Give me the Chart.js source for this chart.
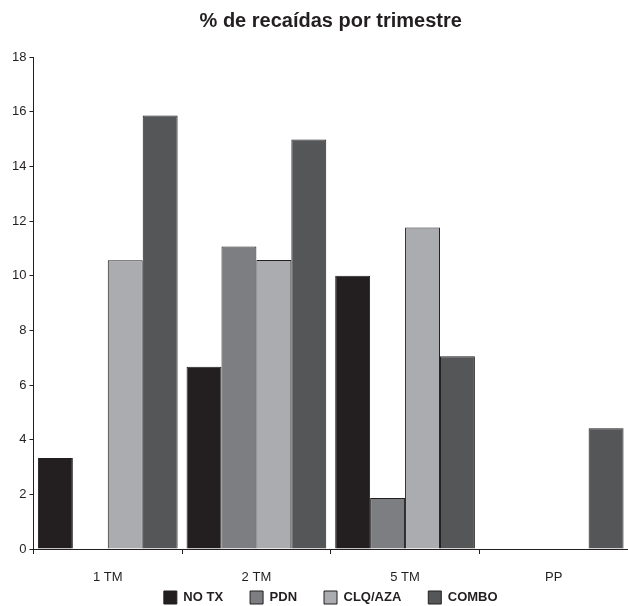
<!DOCTYPE html>
<html>
<head>
<meta charset="utf-8">
<script src="https://cdn.jsdelivr.net/npm/chart.js@4/dist/chart.umd.min.js"></script>
<style>
html,body{margin:0;padding:0;background:#fff;}
#wrap{width:628px;height:606px;position:relative;}
</style>
</head>
<body>
<div id="wrap"><canvas id="c" width="628" height="606"></canvas></div>
<script>
const categories = ["1 TM", "2 TM", "5 TM", "PP"];
const seriesNames = ["NO TX", "PDN", "CLQ/AZA", "COMBO"];
const noTx   = [3.33, 6.67, 10.0, 0];
const pdn    = [0, 11.07, 1.87, 0];
const clqAza = [10.56, 10.57, 11.76, 0];
const combo  = [15.86, 14.98, 7.05, 4.42];
const yTicks = [0, 2, 4, 6, 8, 10, 12, 14, 16, 18];

const colors = ["#231f20", "#7d7e82", "#abacb0", "#555658"];
const seriesValues = [noTx, pdn, clqAza, combo];

Chart.defaults.font.family = "'Liberation Sans', Arial, Helvetica, sans-serif";
Chart.defaults.color = "#231f20";

new Chart(document.getElementById('c'), {
  type: 'bar',
  data: {
    labels: categories,
    datasets: seriesNames.map((n, i) => ({
      label: n,
      data: seriesValues[i],
      backgroundColor: colors[i],
      borderColor: "#231f20",
      borderWidth: 1,
      categoryPercentage: 0.94,
      barPercentage: 1.0
    }))
  },
  options: {
    responsive: false,
    animation: false,
    devicePixelRatio: 1,
    layout: { padding: { left: 9, right: 0, top: 7, bottom: -8 } },
    plugins: {
      title: {
        display: true,
        text: "% de recaídas por trimestre",
        fullSize: false,
        color: "#231f20",
        font: { size: 20, weight: 'bold' },
        padding: { top: 2, bottom: 24 }
      },
      legend: {
        position: 'bottom',
        fullSize: false,
        labels: {
          boxWidth: 13,
          boxHeight: 13,
          padding: 27,
          color: "#231f20",
          font: { size: 13, weight: 'bold' }
        }
      },
      tooltip: { enabled: false }
    },
    scales: {
      x: {
        grid: { display: true, drawOnChartArea: false, drawTicks: true, tickLength: 5, color: "#231f20", offset: true },
        border: { display: true, color: "#231f20", width: 1 },
        ticks: { mirror: true, padding: -36, color: "#231f20", font: { size: 13 } },
        afterFit: (scale) => { scale.height = 15; }
      },
      y: {
        min: 0,
        max: 18,
        afterBuildTicks: (axis) => { axis.ticks = yTicks.map(v => ({ value: v })); },
        grid: { display: true, drawOnChartArea: false, drawTicks: true, tickLength: 4, color: "#231f20" },
        border: { display: true, color: "#231f20", width: 1 },
        ticks: { padding: 3, color: "#231f20", font: { size: 13 } }
      }
    }
  }
});
</script>
</body>
</html>
